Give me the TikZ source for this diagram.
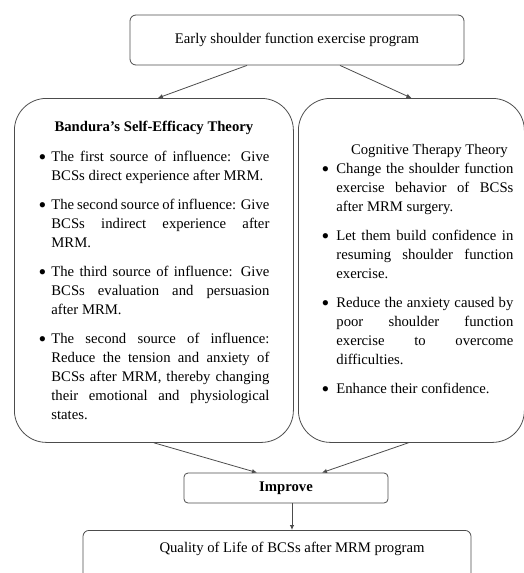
\documentclass[tikz,border=0pt]{standalone}
\usepackage{fontspec}
\setmainfont{Liberation Serif}
\usepackage{enumitem}
\usetikzlibrary{arrows.meta}

\definecolor{linha}{rgb}{0.3,0.3,0.3}
\newcommand{\ponto}{\raisebox{-3.2pt}{\fontsize{22}{22}\selectfont\textbullet}}

\tikzset{
    caixa/.style={draw=linha, line width=0.8pt, rounded corners=6pt, font=\fontsize{14.7}{19}\selectfont},
    teoria/.style={caixa, rounded corners=32pt, minimum height=344pt, align=justify, inner sep=0pt},
    seta/.style={draw=linha, line width=0.8pt, -{Latex[length=5pt,width=4.5pt]}}
}

\begin{document}
\begin{tikzpicture}[x=1pt, y=-1pt] %quality of life
            \useasboundingbox (0,0) rectangle (523,573);
            \hyphenpenalty=10000 \tolerance=9999

            \node[caixa, minimum width=334pt, minimum height=50pt] (programa) at (297,40) {Early shoulder function exercise program};

            \node[teoria, text width=231pt, minimum width=279pt, anchor=north west] (bandura) at (14,98) {%
                {\centering\textbf{Bandura's Self-Efficacy Theory}\par}%
                \begin{itemize}[leftmargin=13pt, labelsep=5pt, topsep=11pt, partopsep=0pt, itemsep=10pt, parsep=0pt, label=\ponto]
                \item The first source of influence: Give\linebreak BCSs direct experience after MRM.
                \item The second source of influence: Give\linebreak BCSs indirect experience after\linebreak MRM.
                \item The third source of influence: Give\linebreak BCSs evaluation and persuasion\linebreak after MRM.
                \item The second source of influence:\linebreak Reduce the tension and anxiety of\linebreak BCSs after MRM, thereby changing\linebreak their emotional and physiological\linebreak states.
                \end{itemize}};

            \node[teoria, text width=204pt, minimum width=226pt, anchor=north west] (cognitiva) at (298,98) {%
                {\centering\hspace*{36pt}Cognitive Therapy Theory\par}%
                \begin{itemize}[leftmargin=27pt, labelsep=7pt, topsep=0pt, partopsep=0pt, itemsep=10pt, parsep=0pt, label=\ponto]
                \item Change the shoulder function\linebreak exercise behavior of BCSs\linebreak after MRM surgery.
                \item Let them build confidence in\linebreak resuming shoulder function\linebreak exercise.
                \item Reduce the anxiety caused by\linebreak poor shoulder function\linebreak exercise to overcome\linebreak difficulties.
                \item Enhance their confidence.
                \end{itemize}};

            \node[caixa, rounded corners=4pt, minimum width=204pt, minimum height=30pt, font=\fontsize{14.7}{19}\selectfont\bfseries] (melhora) at (286,488) {Improve};

            \node[caixa, anchor=north, minimum width=388pt, inner ysep=11.5pt, text depth=45pt] (qualidade) at (277,530) {\hspace*{30pt}Quality of Life of BCSs after MRM program};

            \draw[seta] ([xshift=-50pt]programa.south) -- ([xshift=4pt]bandura.north);
            \draw[seta] ([xshift=43pt]programa.south) -- (cognitiva.north);
            \draw[seta] (bandura.south) -- ([xshift=-29pt]melhora.north);
            \draw[seta] ([xshift=-3pt]cognitiva.south) -- ([xshift=36pt]melhora.north);
            \draw[seta] ([xshift=6pt]melhora.south) -- ([xshift=15pt]qualidade.north);
        \end{tikzpicture}
\end{document}
